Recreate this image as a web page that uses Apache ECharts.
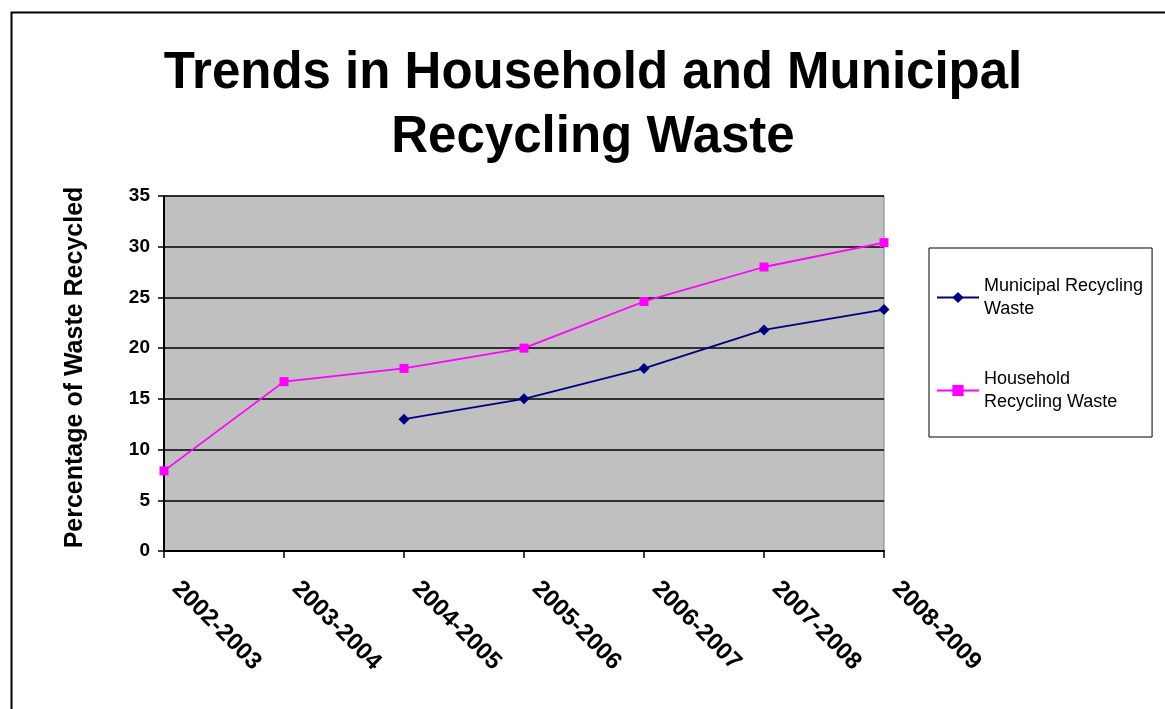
<!DOCTYPE html>
<html>
<head>
<meta charset="utf-8">
<script src="https://cdn.jsdelivr.net/npm/echarts@6/dist/echarts.min.js"></script>
<style>
  html, body { margin: 0; padding: 0; background: #fff; }
  #chart { width: 1165px; height: 709px; }
</style>
</head>
<body>
<div id="chart"></div>
<script>
// 数据
const years = ['2002-2003', '2003-2004', '2004-2005', '2005-2006', '2006-2007', '2007-2008', '2008-2009'];
const municipal = [null, null, 13.0, 15.0, 18.0, 21.8, 23.8];
const household = [7.9, 16.7, 18.0, 20.0, 24.6, 28.0, 30.4];

const chart = echarts.init(document.getElementById('chart'));

const option = {
  backgroundColor: '#fff',
  animation: false,
  title: {
    text: 'Trends in Household and Municipal\nRecycling Waste',
    left: 588,
    textAlign: 'center',
    top: 37,
    textStyle: {
      fontFamily: 'Liberation Sans',
      fontSize: 51,
      fontWeight: 'bold',
      color: '#000',
      lineHeight: 64
    }
  },
  // 外框
  graphic: [
    {
      type: 'rect',
      left: 9,
      top: 10,
      shape: { width: 1200, height: 800 },
      style: { fill: 'none', stroke: '#000', lineWidth: 2 },
      silent: true
    }
  ],
  legend: {
    orient: 'vertical',
    left: 929,
    top: 248,
    backgroundColor: '#fff',
    borderColor: '#000',
    borderWidth: 1,
    padding: [15, 9, 12, 7],
    itemWidth: 42,
    itemHeight: 14,
    itemGap: 24,
    textStyle: {
      fontFamily: 'Liberation Sans',
      fontSize: 18,
      color: '#000',
      lineHeight: 23,
      padding: [23, 0, 0, 0]
    },
    formatter: function (name) {
      return name === 'Municipal Recycling Waste'
        ? 'Municipal Recycling\nWaste'
        : 'Household\nRecycling Waste';
    },
    data: ['Municipal Recycling Waste', 'Household Recycling Waste']
  },
  grid: {
    left: 164,
    top: 196,
    width: 720,
    height: 355,
    show: true,
    backgroundColor: '#c0c0c0',
    borderColor: '#808080',
    borderWidth: 1
  },
  xAxis: {
    type: 'category',
    boundaryGap: false,
    data: years,
    axisLine: { lineStyle: { color: '#000', width: 2 } },
    axisTick: { show: true, length: 7, lineStyle: { color: '#000', width: 1.5 } },
    axisLabel: {
      rotate: -45,
      margin: 22,
      padding: [0, 0, 0, 17],
      interval: 0,
      fontFamily: 'Liberation Sans',
      fontSize: 24,
      fontWeight: 'bold',
      color: '#000'
    }
  },
  yAxis: {
    type: 'value',
    min: 0,
    max: 35,
    interval: 5,
    name: 'Percentage of Waste Recycled',
    nameLocation: 'middle',
    nameGap: 76,
    nameTextStyle: {
      fontFamily: 'Liberation Sans',
      fontSize: 25,
      fontWeight: 'bold',
      color: '#000',
      padding: [0, 0, 0, 12]
    },
    axisLine: { show: true, lineStyle: { color: '#000', width: 2 } },
    axisTick: { show: true, length: 6, lineStyle: { color: '#000', width: 1.5 } },
    axisLabel: {
      margin: 14,
      fontFamily: 'Liberation Sans',
      fontSize: 19,
      fontWeight: 'bold',
      color: '#000'
    },
    splitLine: { lineStyle: { color: '#000', width: 1.5 } }
  },
  series: [
    {
      name: 'Municipal Recycling Waste',
      type: 'line',
      data: municipal,
      symbol: 'diamond',
      symbolSize: 11,
      itemStyle: { color: '#000080' },
      lineStyle: { color: '#000080', width: 1.8 }
    },
    {
      name: 'Household Recycling Waste',
      type: 'line',
      data: household,
      symbol: 'rect',
      symbolSize: 9,
      itemStyle: { color: '#ff00ff' },
      lineStyle: { color: '#ff00ff', width: 1.8 }
    }
  ]
};

chart.setOption(option);
</script>
</body>
</html>
